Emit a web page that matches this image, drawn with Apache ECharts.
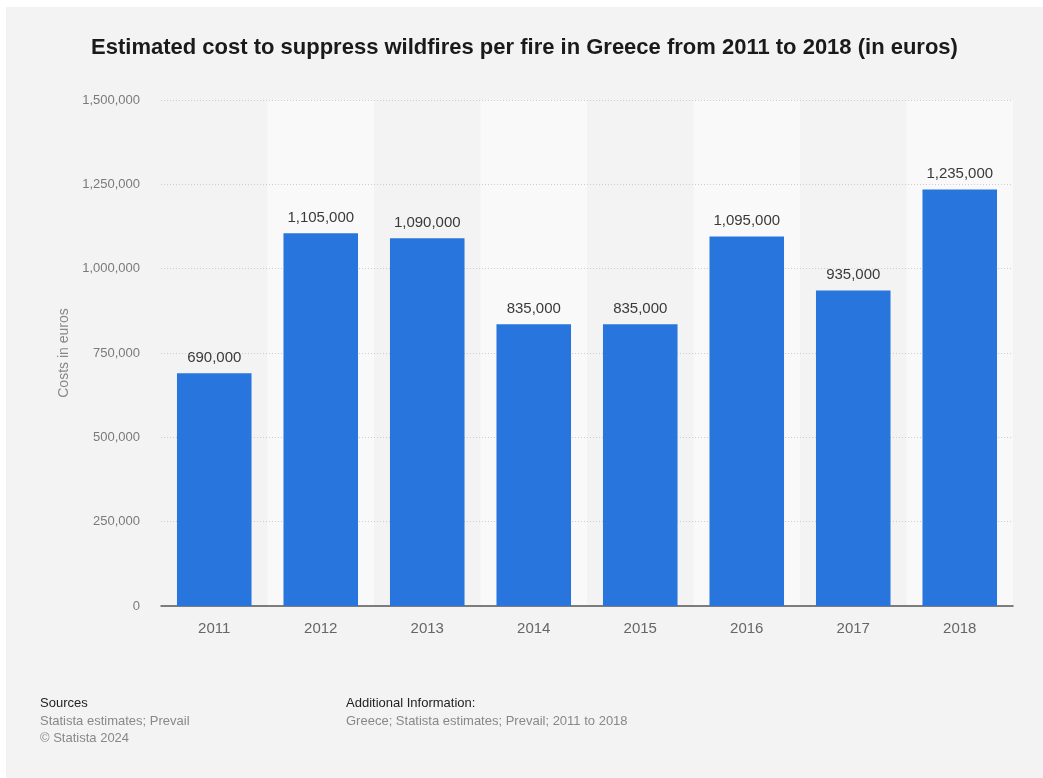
<!DOCTYPE html>
<html>
<head>
<meta charset="utf-8">
<script src="https://cdn.jsdelivr.net/npm/echarts@6/dist/echarts.min.js"></script>
<style>
  html, body { margin: 0; padding: 0; background: #ffffff; width: 1043px; height: 778px; overflow: hidden; }
  #panel { position: absolute; left: 6px; top: 7px; width: 1037px; height: 771px; background: #f3f3f3; }
  #chart { width: 1037px; height: 771px; }
</style>
</head>
<body>
<div id="panel"><div id="chart"></div></div>
<script>
// Estimated suppression cost per wildfire, Greece
const years = ['2011', '2012', '2013', '2014', '2015', '2016', '2017', '2018'];
const costs = [690000, 1105000, 1090000, 835000, 835000, 1095000, 935000, 1235000];
const yTicks = [0, 250000, 500000, 750000, 1000000, 1250000, 1500000];

const fmt = v => v.toLocaleString('en-US');
const FONT = '"Liberation Sans", Arial, Helvetica, sans-serif';

const chart = echarts.init(document.getElementById('chart'), null, { renderer: 'canvas' });

chart.setOption({
  backgroundColor: 'transparent',
  animation: false,
  textStyle: { fontFamily: FONT },
  title: {
    text: 'Estimated cost to suppress wildfires per fire in Greece from 2011 to 2018 (in euros)',
    left: 'center',
    top: 25,
    textStyle: { fontFamily: FONT, fontSize: 22, fontWeight: 'bold', color: '#1a1a1a' }
  },
  grid: { left: 155, right: 30, top: 93, bottom: 172, containLabel: false },
  xAxis: {
    type: 'category',
    data: years,
    z: 0,
    axisTick: { show: false },
    axisLine: { lineStyle: { color: '#555555', width: 1.5 } },
    axisLabel: { color: '#666666', fontSize: 15, margin: 15, fontFamily: FONT },
    splitArea: { show: true, areaStyle: { color: ['rgba(0,0,0,0)', '#f9f9f9'] } }
  },
  yAxis: {
    type: 'value',
    z: 1,
    min: yTicks[0],
    max: yTicks[yTicks.length - 1],
    interval: yTicks[1] - yTicks[0],
    name: 'Costs in euros',
    nameLocation: 'middle',
    nameGap: 86,
    nameTextStyle: { color: '#888888', fontSize: 14, fontFamily: FONT },
    axisLine: { show: false },
    axisTick: { show: false },
    axisLabel: { color: '#7a7a7a', fontSize: 13, margin: 21, fontFamily: FONT, formatter: fmt },
    splitLine: { showMinLine: false, lineStyle: { color: '#cccccc', type: [1, 2], width: 1 } }
  },
  series: [{
    type: 'bar',
    z: 2,
    data: costs,
    barWidth: '70%',
    itemStyle: { color: '#2876dd' },
    label: {
      show: true,
      position: 'top',
      distance: 8,
      color: '#3a3a3a',
      fontSize: 15,
      fontFamily: FONT,
      formatter: p => fmt(p.value)
    }
  }],
  graphic: [
    { type: 'text', left: 34, top: 690, style: { text: 'Sources', fill: '#222222', font: '13px ' + FONT } },
    { type: 'text', left: 34, top: 708, style: { text: 'Statista estimates; Prevail', fill: '#888888', font: '13px ' + FONT } },
    { type: 'text', left: 34, top: 725, style: { text: '\u00A9 Statista 2024', fill: '#888888', font: '13px ' + FONT } },
    { type: 'text', left: 340, top: 690, style: { text: 'Additional Information:', fill: '#222222', font: '13px ' + FONT } },
    { type: 'text', left: 340, top: 708, style: { text: 'Greece; Statista estimates; Prevail; 2011 to 2018', fill: '#888888', font: '13px ' + FONT } }
  ]
});
</script>
</body>
</html>
